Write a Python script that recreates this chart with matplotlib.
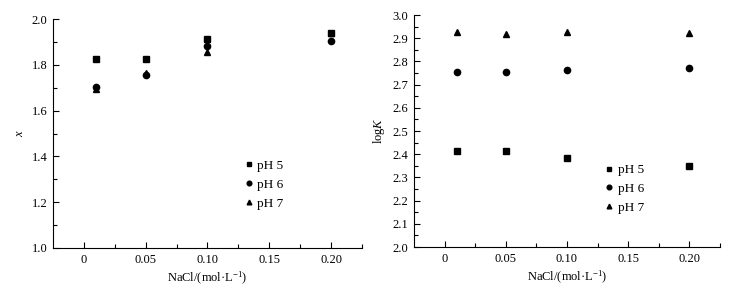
import matplotlib
matplotlib.use("Agg")
import matplotlib.pyplot as plt
from matplotlib.ticker import MultipleLocator, FixedLocator

plt.rcParams['font.family'] = ['Liberation Serif', 'DejaVu Serif']
plt.rcParams['mathtext.fontset'] = 'custom'
plt.rcParams['mathtext.rm'] = 'Liberation Serif'
plt.rcParams['mathtext.it'] = 'Liberation Serif:italic'

nacl = [0.01, 0.05, 0.10, 0.20]
labels = ["pH 5", "pH 6", "pH 7"]
markers = ["s", "o", "^"]

x_ph5 = [1.826, 1.826, 1.911, 1.937]
x_ph6 = [1.702, 1.756, 1.883, 1.904]
x_ph7 = [1.693, 1.766, 1.854, 1.940]

logk_ph5 = [2.413, 2.413, 2.385, 2.350]
logk_ph6 = [2.755, 2.753, 2.763, 2.770]
logk_ph7 = [2.927, 2.917, 2.927, 2.922]

xticks = [0, 0.05, 0.10, 0.15, 0.20]
xticklabels = ["0", "0.05", "0.10", "0.15", "0.20"]

fig = plt.figure(figsize=(7.43, 2.90), dpi=100)
ax1 = fig.add_axes([53/743, 1 - 248/290, (362-53)/743, (248-19)/290])
ax2 = fig.add_axes([414/743, 1 - 247/290, (720-414)/743, (247-15)/290])

def style(ax, ylim, ymaj, ymin):
    ax.set_xlim(-0.025, 0.225)
    ax.set_ylim(*ylim)
    ax.spines['top'].set_visible(False)
    ax.spines['right'].set_visible(False)
    ax.spines['left'].set_linewidth(0.8)
    ax.spines['bottom'].set_linewidth(0.8)
    ax.set_xticks(xticks)
    ax.set_xticklabels(xticklabels)
    ax.xaxis.set_minor_locator(FixedLocator([0.025, 0.075, 0.125, 0.175, 0.225]))
    ax.yaxis.set_major_locator(MultipleLocator(ymaj))
    ax.yaxis.set_minor_locator(MultipleLocator(ymin))
    ax.tick_params(which='both', direction='in', labelsize=9, width=0.8, pad=4)
    ax.tick_params(which='major', length=4)
    ax.tick_params(which='minor', length=3)
    ax.set_xlabel("NaCl/(mol·L$^{-1}$)", fontsize=9, labelpad=3)

leg_kw = dict(loc='upper left', frameon=False, fontsize=9.5, markerscale=0.75,
              handletextpad=0.15, labelspacing=0.5, handlelength=1.0, borderaxespad=0)

series1 = [x_ph5, x_ph6, x_ph7]
for vals, m, lab in zip(series1, markers, labels):
    ax1.plot(nacl, vals, linestyle='none', marker=m, color='black', markersize=4.5, label=lab)
style(ax1, (1.0, 2.0), 0.2, 0.1)
ax1.yaxis.set_major_formatter(matplotlib.ticker.FormatStrFormatter('%.1f'))
ax1.set_ylabel("$x$", fontsize=9, labelpad=4)
ax1.legend(bbox_to_anchor=(0.595, 0.408), **leg_kw)

series2 = [logk_ph5, logk_ph6, logk_ph7]
for vals, m, lab in zip(series2, markers, labels):
    ax2.plot(nacl, vals, linestyle='none', marker=m, color='black', markersize=4.5, label=lab)
style(ax2, (2.0, 3.0), 0.1, 0.05)
ax2.yaxis.set_major_formatter(matplotlib.ticker.FormatStrFormatter('%.1f'))
ax2.set_ylabel("log$K$", fontsize=9, labelpad=4)
ax2.legend(bbox_to_anchor=(0.599, 0.381), **leg_kw)

fig.savefig("out.png", dpi=100)
